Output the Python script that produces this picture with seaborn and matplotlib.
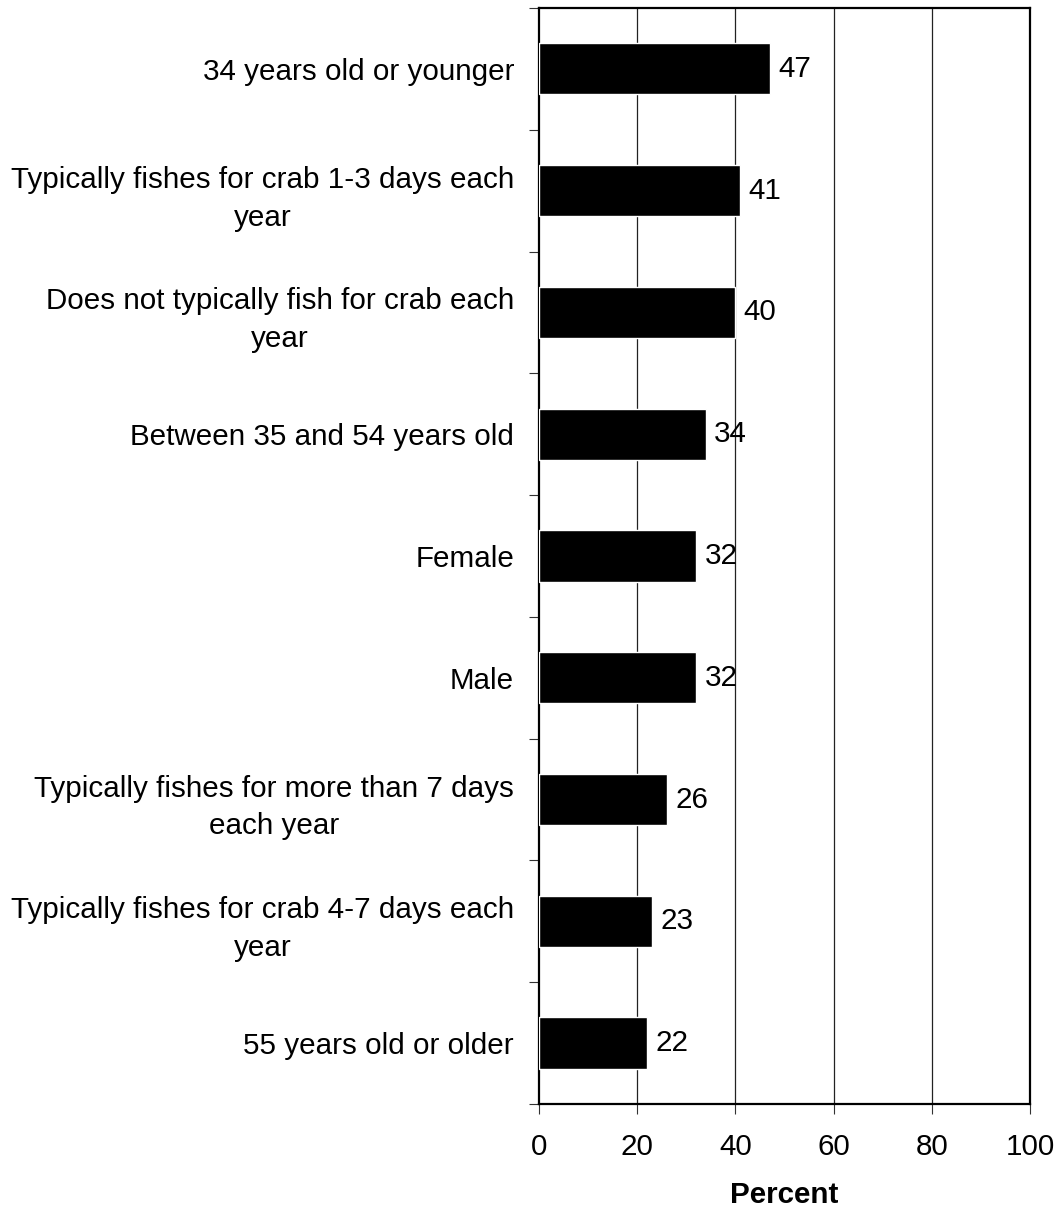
import numpy as np
import pandas as pd
import matplotlib
matplotlib.use("Agg")
import matplotlib.pyplot as plt
import seaborn as sns

categories = [
    "34 years old or younger",
    "Typically fishes for crab 1-3 days each\nyear",
    "Does not typically fish for crab each\nyear",
    "Between 35 and 54 years old",
    "Female",
    "Male",
    "Typically fishes for more than 7 days\neach year",
    "Typically fishes for crab 4-7 days each\nyear",
    "55 years old or older",
]
percents = [47, 41, 40, 34, 32, 32, 26, 23, 22]
x_ticks = [0, 20, 40, 60, 80, 100]

df = pd.DataFrame({"group": categories, "percent": percents})

sns.set_style("white")
plt.rcParams["font.family"] = ["Liberation Sans", "DejaVu Sans"]
plt.rcParams["text.color"] = "black"
plt.rcParams["axes.labelcolor"] = "black"
plt.rcParams["xtick.color"] = "black"
plt.rcParams["ytick.color"] = "black"
plt.rcParams["xtick.bottom"] = True
plt.rcParams["ytick.left"] = True

fs = 21.3

fig = plt.figure(figsize=(10.59, 12.11), dpi=100)
ax = fig.add_axes([0.509, 0.0884, 0.4636, 0.905])

sns.barplot(
    data=df,
    x="percent",
    y="group",
    orient="h",
    color="black",
    width=0.42,
    saturation=1,
    ax=ax,
    zorder=3
)

ax.set_xlim(0, 100)
ax.set_ylim(len(categories) - 0.5, -0.5)
ax.set_xticks(x_ticks)

# vertical gridlines only
ax.grid(False)
for v in x_ticks[1:-1]:
    ax.axvline(v, color="#222222", linewidth=0.9, zorder=1)

ax.bar_label(ax.containers[0], labels=[str(p) for p in percents],
             padding=6, fontsize=fs, color="black")

# category labels sit between boundary ticks
ax.set_yticks(np.arange(len(categories)))
ax.set_yticklabels(categories, fontsize=fs)
for lbl in ax.get_yticklabels():
    lbl.set_multialignment("center")
    lbl.set_linespacing(1.45)
ax.set_yticks(np.arange(-0.5, len(categories)), minor=True)
ax.tick_params(axis="y", which="major", length=0, pad=18)
ax.tick_params(axis="y", which="minor", length=7, width=0.8, color="#333333")
ax.tick_params(axis="x", length=7, width=0.8, color="#333333",
               labelsize=fs, pad=14)

ax.set_xlabel("Percent", fontsize=fs, fontweight="bold", labelpad=14)
ax.set_ylabel("")

for s in ax.spines.values():
    s.set_visible(True)
    s.set_color("black")
    s.set_linewidth(1.6)

fig.savefig("out.png", dpi=100)
